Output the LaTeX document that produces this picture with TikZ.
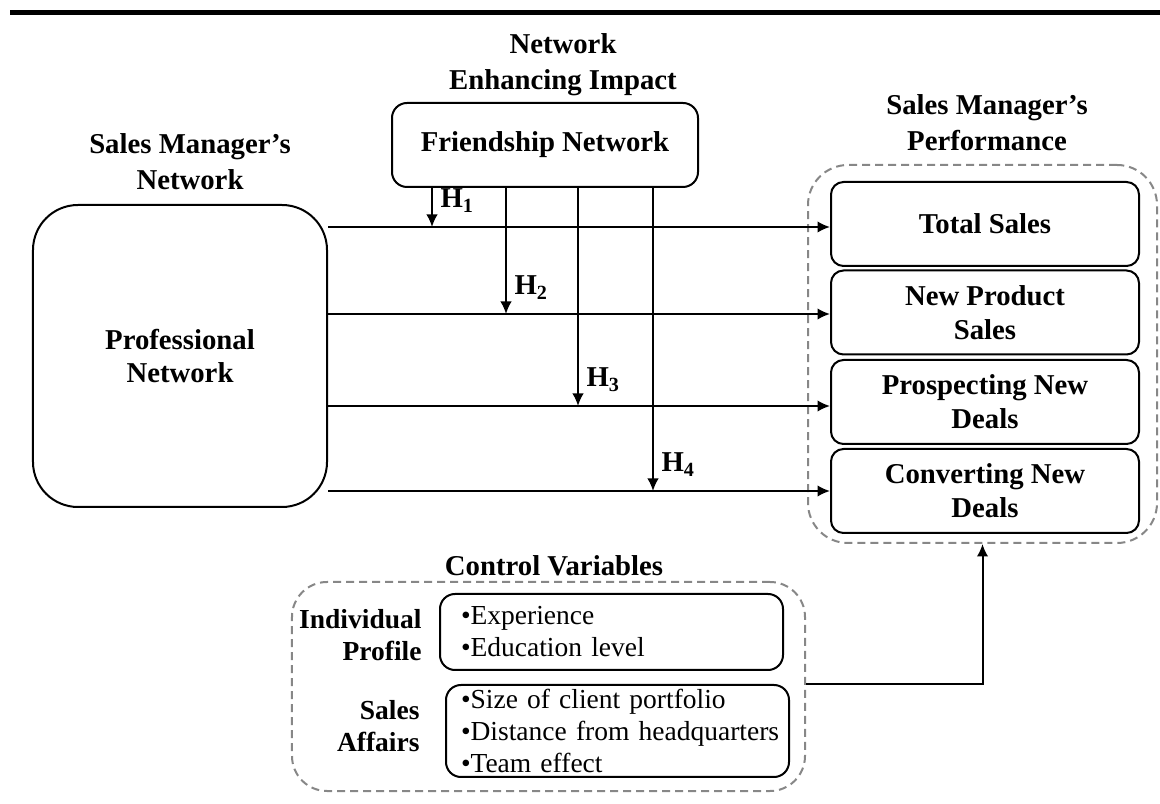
\documentclass[tikz,border=0pt]{standalone}
\usepackage{fontspec}
\setmainfont{Liberation Serif}
\usepackage{tikz}
\usetikzlibrary{arrows.meta}

\definecolor{dashgray}{RGB}{135,135,135}
\newcommand{\cvitem}[1]{\mbox{•#1}}

\begin{document}
\begin{tikzpicture}[x=0.4pt,y=-0.4pt]
\tikzset{>={Latex[width=4.6pt,length=5pt]}}
\tikzstyle{title} =[align=center, inner sep=0pt, font=\bfseries\fontsize{11.5}{14.5}\selectfont]
\tikzstyle{box} =[draw, thick, rounded corners=5pt, align=center, inner sep=0pt, font=\bfseries\fontsize{11.5}{13.5}\selectfont]
\tikzstyle{outcome} =[box, minimum width=123.2pt, minimum height=33.6pt]
\tikzstyle{group} =[draw=dashgray, thick, dash pattern=on 3.2pt off 2pt, rounded corners=16pt, inner sep=0pt]
\tikzstyle{items} =[draw, thick, rounded corners=6pt, align=left, inner ysep=0pt, font=\fontsize{11}{12.8}\selectfont]
\tikzstyle{cvlabel} =[align=right, anchor=east, inner sep=0pt, font=\bfseries\fontsize{11}{12.6}\selectfont]
\tikzstyle{hlab} =[anchor=base west, inner sep=0pt, font=\bfseries\fontsize{11.5}{13.5}\selectfont]

\useasboundingbox (0,0) rectangle (1160,804);

% top rule
\draw[line width=2pt] (10,13) -- (1160,13);

% titles
\node[title](nettitle) at (563,65){Network\\Enhancing Impact};
\node[title](smtitle) at (190,162){Sales Manager’s\\Network};
\node[title](perftitle) at (987,123){Sales Manager’s\\Performance};

% networks
\node[box,rounded corners=6pt,minimum width=122.4pt,minimum height=33.6pt](friend) at (545,145){Friendship Network};
\node[box,rounded corners=18pt,minimum width=117.6pt,minimum height=120.8pt](prof) at (180,356){Professional\\Network};

% performance
\node[group,minimum width=139.6pt,minimum height=151.2pt](perf) at (982.5,354){};
\node[outcome](ts) at (985,224){Total Sales};
\node[outcome](nps) at (985,312.5){New Product\\Sales};
\node[outcome](pnd) at (985,402){Prospecting New\\Deals};
\node[outcome](cnd) at (985,491){Converting New\\Deals};

% control variables
\node[title](ctitle) at (554,566){Control Variables};
\node[group,rounded corners=14pt,minimum width=205.2pt,minimum height=83.6pt](ctrl) at (548.5,686.5){};
\node[items,inner xsep=8.4pt,text width=120.4pt,minimum height=30.4pt](ipbox) at (611.5,632){\cvitem{Experience}\\\cvitem{Education level}};
\node[items,inner xsep=6pt,text width=125.2pt,minimum height=36.8pt](sabox) at (617.5,731){\cvitem{Size of client portfolio}\\\cvitem{Distance from headquarters}\\\cvitem{Team effect}};
\node[cvlabel](indiv) at (422,635){Individual\\Profile};
\node[cvlabel](saff) at (420,726){Sales\\Affairs};

% hypotheses
\coordinate (h1) at (432,227);
\coordinate (h2) at (506,314);
\coordinate (h3) at (578,406);
\coordinate (h4) at (653,491);

\draw [->,thick] (prof.east |- h1) to (h1 -| ts.west);
\draw [->,thick] (prof.east |- h2) to (h2 -| nps.west);
\draw [->,thick] (prof.east |- h3) to (h3 -| pnd.west);
\draw [->,thick] (prof.east |- h4) to (h4 -| cnd.west);

\draw [->,thick] (friend.south -| h1) to (h1);
\draw [->,thick] (friend.south -| h2) to (h2);
\draw [->,thick] (friend.south -| h3) to (h3);
\draw [->,thick] (friend.south -| h4) to (h4);

\node[hlab](l1) at ([xshift=3.2pt,yshift=7.6pt]h1){H\textsubscript{1}};
\node[hlab](l2) at ([xshift=3.2pt,yshift=7.6pt]h2){H\textsubscript{2}};
\node[hlab](l3) at ([xshift=3.2pt,yshift=7.6pt]h3){H\textsubscript{3}};
\node[hlab](l4) at ([xshift=3.2pt,yshift=7.6pt]h4){H\textsubscript{4}};

\draw [->,thick] (ctrl.east |- sabox.north) -| (perf.south);
\end{tikzpicture}
\end{document}
